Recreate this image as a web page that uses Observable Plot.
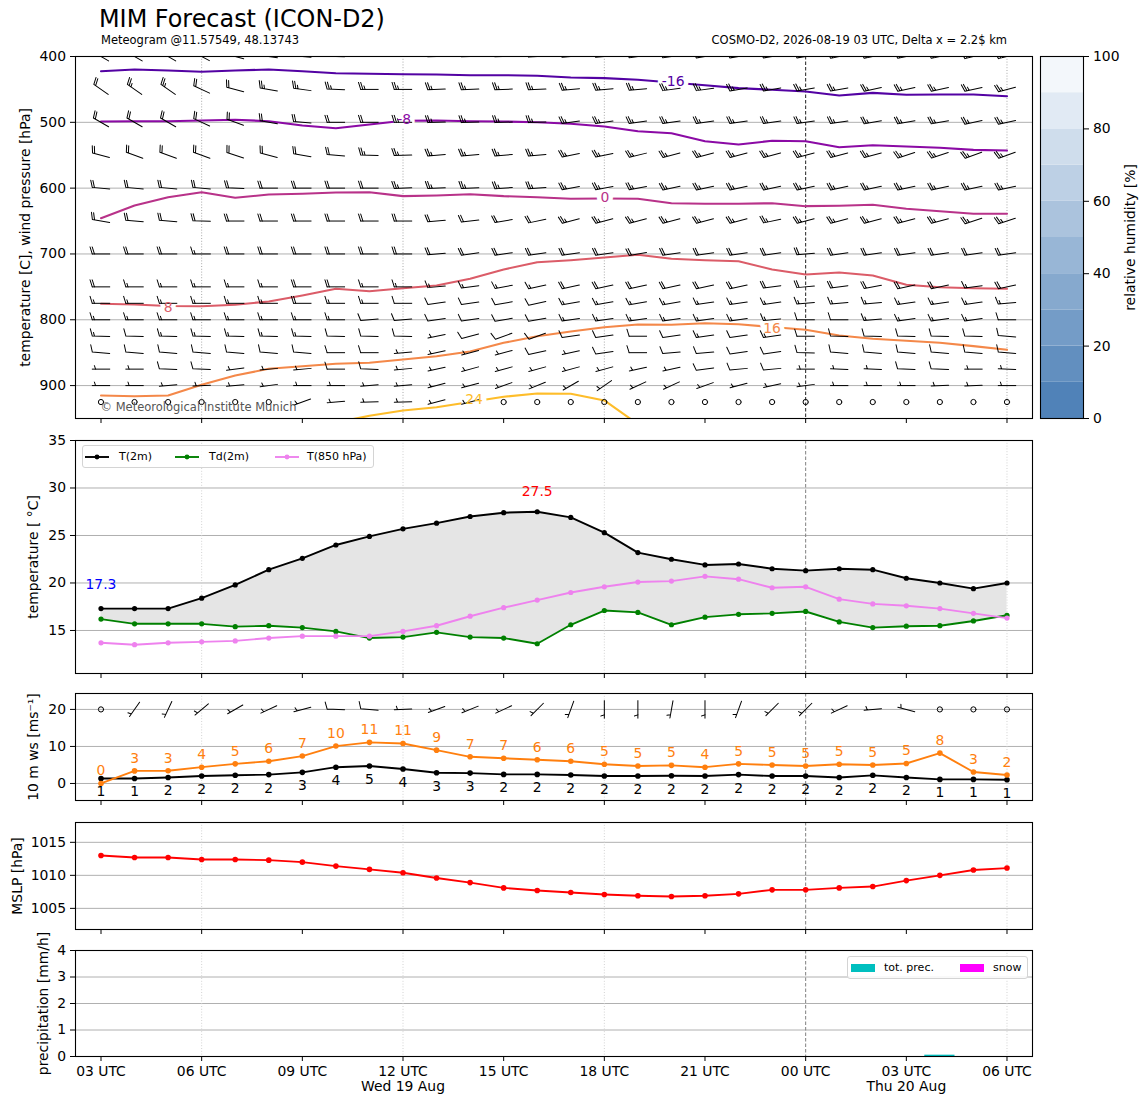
<!DOCTYPE html>
<html><head><meta charset="utf-8">
<script src="https://cdn.jsdelivr.net/npm/d3@7"></script>
<script src="https://cdn.jsdelivr.net/npm/@observablehq/plot@0.6"></script>
<style>
body{margin:0;background:#fff;}
#root{position:relative;width:1148px;height:1105px;overflow:hidden;font-family:"DejaVu Sans",sans-serif;color:#000;}
.abs{position:absolute;white-space:nowrap;}
.leg{position:absolute;border:1px solid #d4d4d4;border-radius:3px;background:rgba(255,255,255,0.85);font-size:11px;}
.li{position:absolute;top:0;height:100%;display:flex;align-items:center;}
</style></head><body><div id="root"></div>
<script>
// ---------------- DATA ----------------
const times = ["2026-08-19T03:00Z","2026-08-19T04:00Z","2026-08-19T05:00Z","2026-08-19T06:00Z","2026-08-19T07:00Z","2026-08-19T08:00Z","2026-08-19T09:00Z","2026-08-19T10:00Z","2026-08-19T11:00Z","2026-08-19T12:00Z","2026-08-19T13:00Z","2026-08-19T14:00Z","2026-08-19T15:00Z","2026-08-19T16:00Z","2026-08-19T17:00Z","2026-08-19T18:00Z","2026-08-19T19:00Z","2026-08-19T20:00Z","2026-08-19T21:00Z","2026-08-19T22:00Z","2026-08-19T23:00Z","2026-08-20T00:00Z","2026-08-20T01:00Z","2026-08-20T02:00Z","2026-08-20T03:00Z","2026-08-20T04:00Z","2026-08-20T05:00Z","2026-08-20T06:00Z"];
const tickTimes = ["2026-08-19T03:00Z","2026-08-19T06:00Z","2026-08-19T09:00Z","2026-08-19T12:00Z","2026-08-19T15:00Z","2026-08-19T18:00Z","2026-08-19T21:00Z","2026-08-20T00:00Z","2026-08-20T03:00Z","2026-08-20T06:00Z"];
const gridTimes = ["2026-08-19T06:00Z","2026-08-19T12:00Z","2026-08-19T18:00Z","2026-08-20T06:00Z"];
const midnightTimes = ["2026-08-20T00:00Z"];
const dayLabelTimes = ["2026-08-19T12:00Z","2026-08-20T03:00Z"];
const dayLabels = ["Wed 19 Aug","Thu 20 Aug"];

// isotherms (pressure in hPa of each isotherm at each hour)
const isoTemps = [-16,-8,0,8,16,24];
const isoM16 = [422.3,419.8,421.3,423.2,421.3,419.8,422.3,425.4,426.3,426.9,427.3,428.4,428.4,429.3,431.9,432.9,435.4,439.5,443.6,448.1,450.6,453.2,459.3,455.2,458.2,457.7,457.7,460.3];
const isoM8 = [498.8,498.3,498.3,497.2,496.2,498.3,504.8,508.9,503.3,497.7,497.2,498.3,498.8,499.8,502.2,506.4,513.5,516.5,528.7,533.7,528.1,528.7,537.8,534.8,536.7,538.7,541.8,542.8];
const iso0 = [645.7,626.4,613.8,606.2,614.7,609.7,608.6,606.6,606.2,612.2,611.2,609.2,612.2,613.8,616.2,615.7,616.2,622.9,623.8,623.8,622.9,627.4,626.8,625.3,631.4,635.1,639,639];
const iso8 = [775.7,776.8,779,779.4,777.2,772.2,763.1,752.9,756.6,752,747.9,737.7,723.6,712.5,709.5,705.4,701.3,707.4,709.5,711,723.6,731.2,728.2,732.7,746.9,750.5,752,752.9];
const iso16 = [915,916.1,915,898.8,884.6,874.5,870.5,866.9,865.4,860.4,855.3,848.2,835,825,817.8,811.3,807.2,807.6,805.2,806.7,811,815.2,823.9,828.9,831.9,835,840.1,845.6];
const iso24 = [null,null,null,null,null,null,null,956,945.9,937.8,932.8,924.9,917,912,912.4,922.6,958.5,null,null,null,null,null,null,null,null,null,null,null];
const isoLabelTimes = ["2026-08-19T20:03Z","2026-08-19T12:02Z","2026-08-19T18:01Z","2026-08-19T05:00Z","2026-08-19T23:00Z","2026-08-19T14:07Z"];
const isoLabelP = [437.5,496.2,613.8,780.8,813.7,921.6];

// wind barbs aloft
const levels = [400,450,500,550,600,650,700,750,775,800,825,850,875,900,925];
const barbSpeedKt = [
 [25,25,25,25,25,25,25,25,25,25,25,25,25,25,25,25,25,25,25,25,25,25,25,25,25,25,25,25],
 [20,25,25,20,20,25,25,25,25,25,25,25,25,25,25,25,25,25,25,25,25,25,25,25,25,25,25,25],
 [20,20,20,20,20,20,20,20,20,25,25,25,25,25,25,25,25,25,25,25,25,25,25,25,25,25,25,25],
 [20,20,20,20,20,20,20,20,25,25,25,25,25,25,25,25,25,25,25,25,25,25,25,25,25,25,25,25],
 [20,20,20,20,20,20,20,20,20,25,25,25,25,25,25,25,25,25,25,25,25,25,25,25,25,25,25,25],
 [20,20,20,20,20,20,20,20,20,20,20,20,20,20,25,25,25,25,25,25,25,25,25,25,25,25,25,25],
 [20,20,20,15,20,20,20,20,20,20,20,20,20,20,20,20,20,20,20,20,20,20,20,20,20,20,20,20],
 [20,15,15,15,15,15,20,20,15,15,15,15,15,15,20,20,20,20,20,20,20,20,20,20,20,20,15,20],
 [15,15,15,15,15,15,20,15,15,10,10,10,10,10,15,15,15,15,15,15,15,15,15,15,15,15,15,15],
 [15,15,15,15,15,15,15,15,10,10,10,10,10,10,15,15,15,15,15,15,15,10,10,15,15,15,15,10],
 [15,10,15,15,15,15,15,10,10,10,5,10,10,10,10,10,10,10,15,10,15,10,10,10,10,10,10,10],
 [10,10,10,10,10,10,10,10,10,5,5,5,5,10,5,10,10,10,10,10,10,10,10,10,10,10,10,10],
 [5,5,10,10,5,5,5,10,10,5,5,5,5,5,5,5,5,5,10,10,10,5,5,5,10,10,5,5],
 [5,5,5,5,5,5,5,5,5,5,5,5,5,5,5,5,5,5,5,5,5,5,5,5,5,5,5,5],
 [0,0,0,0,0,0,5,5,5,5,5,5,0,0,0,0,0,0,0,0,0,0,0,0,0,0,0,0]
];
const barbDirDeg = [
 [300,300,300,298,285,278,275,272,270,270,268,268,268,266,265,265,262,262,260,260,260,260,258,258,258,258,256,256],
 [305,305,305,295,285,280,278,272,270,270,268,268,268,268,265,265,265,262,262,260,260,260,260,258,258,258,258,255],
 [300,300,300,295,290,280,275,270,270,270,268,268,268,268,262,262,262,262,262,262,262,262,262,260,260,260,258,258],
 [285,290,290,290,288,285,280,275,272,268,265,265,265,265,258,258,256,255,255,255,255,255,255,255,252,252,250,250],
 [275,275,275,275,272,270,270,270,270,268,268,268,266,266,260,260,260,258,258,258,258,258,258,258,258,258,258,258],
 [280,275,275,272,270,270,270,270,270,270,265,263,260,258,255,255,255,255,255,255,258,255,255,255,255,255,252,252],
 [270,270,270,270,270,270,270,270,270,270,265,262,262,262,262,262,260,262,262,262,262,265,262,262,262,262,262,262],
 [270,270,270,270,270,270,270,270,270,270,265,262,260,258,258,258,258,258,258,258,262,265,262,260,258,258,262,258],
 [270,270,270,270,270,270,270,270,270,270,262,262,260,258,260,260,260,260,262,262,262,265,265,265,262,262,262,265],
 [270,270,270,270,270,270,270,270,265,265,262,262,260,260,262,262,262,262,262,262,265,270,270,265,262,262,262,270],
 [272,272,272,272,272,272,272,272,272,272,258,255,250,250,262,262,270,262,262,262,262,270,272,272,272,272,272,275],
 [275,275,275,275,275,275,275,270,270,265,258,255,255,258,258,262,270,265,265,262,262,272,275,275,275,275,275,275],
 [270,270,272,272,262,265,265,270,272,265,258,255,255,255,255,255,258,258,262,265,265,270,272,272,272,272,270,272],
 [270,270,265,268,265,262,270,270,265,265,255,255,250,248,240,235,245,245,250,255,258,262,270,270,270,268,268,270],
 [0,0,0,0,0,0,250,265,268,268,255,255,0,0,0,0,0,0,0,0,0,0,0,0,0,0,0,0]
];
const rhBands = [0,10,20,30,40,50,60,70,80,90];

// surface
const t2m = [17.3,17.3,17.3,18.4,19.8,21.4,22.6,24.0,24.9,25.7,26.3,27.0,27.4,27.5,26.9,25.3,23.2,22.5,21.9,22.0,21.5,21.3,21.5,21.4,20.5,20.0,19.4,20.0];
const td2m = [16.2,15.7,15.7,15.7,15.4,15.5,15.3,14.9,14.2,14.3,14.8,14.3,14.2,13.6,15.6,17.1,16.9,15.6,16.4,16.7,16.8,17.0,15.9,15.3,15.45,15.5,16.0,16.6];
const t850 = [13.7,13.5,13.7,13.8,13.9,14.2,14.4,14.4,14.4,14.9,15.5,16.5,17.4,18.2,19.0,19.6,20.1,20.2,20.7,20.4,19.5,19.6,18.3,17.8,17.6,17.3,16.8,16.3];
const ws10 = [1.35,1.35,1.6,2.0,2.2,2.4,3.0,4.4,4.7,3.9,2.9,2.8,2.45,2.45,2.3,2.0,2.0,2.1,2.0,2.4,2.0,2.0,1.6,2.2,1.6,1.1,1.1,1.0];
const gust10 = [0.0,3.4,3.45,4.4,5.3,6.0,7.4,10.1,11.1,10.8,9.0,7.2,6.8,6.4,6.0,5.2,4.7,4.9,4.4,5.3,5.0,4.7,5.2,5.0,5.4,8.2,3.1,2.3];
const wind10Kt = [0,5,5,5,5,5,5,10,10,5,5,5,5,5,5,5,5,5,5,5,5,5,5,5,5,0,0,0];
const wind10Dir = [0,215,205,230,240,245,255,272,275,268,250,248,245,225,200,180,180,190,180,200,225,225,245,265,285,0,0,0];
const mslp = [1013.0,1012.7,1012.7,1012.4,1012.4,1012.3,1012.0,1011.4,1010.9,1010.4,1009.6,1008.9,1008.1,1007.7,1007.4,1007.1,1006.9,1006.8,1006.9,1007.2,1007.8,1007.8,1008.1,1008.3,1009.2,1010.0,1010.8,1011.1];
const precipTot = [0,0,0,0,0,0,0,0,0,0,0,0,0,0,0,0,0,0,0,0,0,0,0,0,0,0.05,0,0];
const precipSnow = [0,0,0,0,0,0,0,0,0,0,0,0,0,0,0,0,0,0,0,0,0,0,0,0,0,0,0,0];

// ---------------- BUILD ----------------
const root = document.getElementById("root");
const FONT = "DejaVu Sans, sans-serif";
const FS = 13.9;
const W = 1148, ML = 75, MR = W - 1032;
const T = times.map(s => new Date(s));
const H = 36e5;
const xDomain = [new Date(+T[0] - 0.76 * H), new Date(+T[T.length - 1] + 0.76 * H)];
const ticksX = tickTimes.map(s => new Date(s));
const gridX = gridTimes.map(s => new Date(s));
const midX = midnightTimes.map(s => new Date(s));
const fmtUTC = d3.utcFormat("%H UTC");
const plasma = t => d3.interpolatePlasma((t + 24) / 56);
const BARB = 17.5;

function barbShape(kt) {
  const S = BARB, Hh = 0.4 * S, Wd = 0.25 * S, sp = 0.125 * S;
  return {
    draw(ctx) {
      if (kt === 0) { const r = 0.15 * S; ctx.moveTo(r, 0); ctx.arc(0, 0, r, 0, 2 * Math.PI); return; }
      let v = Math.round(kt / 5) * 5;
      const nFlag = Math.floor(v / 50); v -= 50 * nFlag;
      const nFull = Math.floor(v / 10); v -= 10 * nFull;
      const half = v >= 5;
      const far = -S / 2;
      ctx.moveTo(0, S / 2); ctx.lineTo(0, far);
      let off = 0;
      for (let i = 0; i < nFlag; i++) { ctx.moveTo(0, far + off); ctx.lineTo(Hh, far + off + Wd / 2); ctx.lineTo(0, far + off + Wd); off += Wd + sp; }
      for (let i = 0; i < nFull; i++) { ctx.moveTo(0, far + off); ctx.lineTo(Hh, far + off - Wd / 2); off += sp; }
      if (half) { if (nFull === 0 && nFlag === 0) off += 1.5 * sp; ctx.moveTo(0, far + off); ctx.lineTo(Hh / 2, far + off - Wd / 4); }
    }
  };
}
function barbMarks(records) {
  const classes = [...new Set(records.map(d => d.kt))];
  return classes.map(k => Plot.vector(records.filter(d => d.kt === k), {
    x: "time", y: "y", rotate: "dir", length: BARB, shape: barbShape(k), anchor: "start",
    stroke: "black", strokeWidth: 1, clip: true
  }));
}

function panel({top, bottom, yDomain, yTicks, yGrid, yLabel, labelX, marks, mt = 8, mb = 12, xLabels = false, dotColor = "#d2d2d2", dashColor = "#808080"}) {
  const h = bottom - top;
  const extra = xLabels ? [Plot.text(dayLabelTimes.map((s, i) => ({time: new Date(s), label: dayLabels[i]})), {x: "time", text: "label", frameAnchor: "bottom", dy: 34, fontSize: FS})] : [];
  const svg = Plot.plot({
    width: W, height: mt + h + mb,
    marginLeft: ML, marginRight: MR, marginTop: mt, marginBottom: mb,
    style: {fontFamily: FONT, fontSize: FS + "px", background: "transparent", overflow: "visible"},
    x: {type: "utc", domain: xDomain},
    y: {domain: yDomain},
    marks: [
      Plot.ruleY(yGrid, {stroke: "#b0b0b0", strokeWidth: 1}),
      Plot.ruleX(gridX, {stroke: dotColor, strokeDasharray: "1,1.8", strokeWidth: 1}),
      Plot.ruleX(midX, {stroke: dashColor, strokeDasharray: "3.5,2", strokeWidth: 1}),
      ...marks,
      Plot.axisY({ticks: yTicks, tickSize: 5, tickPadding: 4.5, label: null, fontSize: FS, tickFormat: d => String(d)}),
      Plot.axisX({ticks: ticksX, tickSize: 5, tickPadding: 5, label: null, fontSize: FS, tickFormat: xLabels ? (d => fmtUTC(d)) : (() => "")}),
      ...extra,
      Plot.text([yLabel], {text: d => d, frameAnchor: "left", dx: labelX - ML, rotate: -90, textAnchor: "middle", fontSize: FS}),
      Plot.frame({stroke: "black", strokeWidth: 1.1})
    ]
  });
  svg.style.position = "absolute"; svg.style.left = "0px"; svg.style.top = (top - mt) + "px";
  root.append(svg);
}

function addDiv(html, style, cls = "abs") {
  const d = document.createElement("div"); d.className = cls; d.innerHTML = html; Object.assign(d.style, style); root.append(d); return d;
}

// titles
addDiv("MIM Forecast (ICON-D2)", {left: "99px", top: "8px", fontSize: "23.9px", lineHeight: "1"});
addDiv("Meteogram @11.57549, 48.13743", {left: "101px", top: "35px", fontSize: "11.5px", lineHeight: "1"});
addDiv("COSMO-D2, 2026-08-19 03 UTC, Delta x = 2.2$ km", {right: (1148 - 1007) + "px", top: "35px", fontSize: "11.5px", lineHeight: "1"});

// ---- Panel 1: upper air
const isoSeries = [isoM16, isoM8, iso0, iso8, iso16, iso24];
const isoRecords = isoSeries.map((arr, k) => arr.map((p, i) => ({time: T[i], p, temp: isoTemps[k]})).filter(d => d.p != null));
const isoLabelRecs = isoTemps.map((t, k) => ({time: new Date(isoLabelTimes[k]), p: isoLabelP[k], temp: t, label: String(t)}));
const barbRecs = [];
levels.forEach((lev, j) => T.forEach((t, i) => barbRecs.push({time: t, y: lev, kt: barbSpeedKt[j][i], dir: barbDirDeg[j][i]})));

panel({
  top: 56, bottom: 418, yDomain: [950, 400], yTicks: [400, 500, 600, 700, 800, 900], yGrid: [500, 600, 700, 800, 900],
  yLabel: "temperature [C], wind pressure [hPa]", labelX: 25, dotColor: "#a8a8a8", dashColor: "#222",
  marks: [
    ...isoRecords.map((recs, k) => Plot.line(recs, {x: "time", y: "p", stroke: plasma(isoTemps[k]), strokeWidth: 2.1, clip: true})),
    Plot.text(isoLabelRecs, {x: "time", y: "p", text: "label", fill: "white", stroke: "white", strokeWidth: 9, fontSize: FS}),
    ...barbMarks(barbRecs),
    Plot.text(isoLabelRecs, {x: "time", y: "p", text: "label", fill: d => plasma(d.temp), fontSize: FS}),
    Plot.text(["© Meteorological Institute Munich"], {text: d => d, frameAnchor: "bottom-left", dx: 25, dy: -8, textAnchor: "start", fill: "#555", fontSize: 11.5})
  ]
});

// colorbar
{
  const svg = Plot.plot({
    width: 148, height: 8 + 362 + 12, marginLeft: 40, marginRight: 65, marginTop: 8, marginBottom: 12,
    style: {fontFamily: FONT, fontSize: FS + "px", background: "transparent", overflow: "visible"},
    x: {domain: [0, 1], axis: null},
    y: {domain: [0, 100]},
    color: {type: "linear", domain: [0, 90], range: ["#5082b8", "#f3f7fb"]},
    marks: [
      Plot.rect(rhBands, {x1: 0, x2: 1, y1: d => d, y2: d => d + 10, fill: d => d}),
      Plot.axisY({anchor: "right", ticks: [0, 20, 40, 60, 80, 100], tickSize: 5, tickPadding: 4.5, label: null, fontSize: FS, tickFormat: d => String(d)}),
      Plot.text(["relative humidity [%]"], {text: d => d, frameAnchor: "right", dx: 47, rotate: -90, textAnchor: "middle", fontSize: FS}),
      Plot.frame({stroke: "black", strokeWidth: 1.1})
    ]
  });
  svg.style.position = "absolute"; svg.style.left = "1000px"; svg.style.top = (56 - 8) + "px";
  root.append(svg);
}

// ---- Panel 2: temperatures
const surf = T.map((t, i) => ({time: t, t2m: t2m[i], td: td2m[i], t850: t850[i]}));
const tMaxIdx = t2m.indexOf(d3.max(t2m));
panel({
  top: 440, bottom: 673, yDomain: [10.47, 35], yTicks: [15, 20, 25, 30, 35], yGrid: [15, 20, 25, 30],
  yLabel: "temperature [ °C]", labelX: 33,
  marks: [
    Plot.areaY(surf, {x: "time", y1: "td", y2: "t2m", fill: "#e5e5e5"}),
    Plot.line(surf, {x: "time", y: "t2m", stroke: "black", strokeWidth: 1.9}),
    Plot.dot(surf, {x: "time", y: "t2m", r: 2.6, fill: "black"}),
    Plot.line(surf, {x: "time", y: "td", stroke: "green", strokeWidth: 1.9}),
    Plot.dot(surf, {x: "time", y: "td", r: 2.6, fill: "green"}),
    Plot.line(surf, {x: "time", y: "t850", stroke: "violet", strokeWidth: 1.9}),
    Plot.dot(surf, {x: "time", y: "t850", r: 2.6, fill: "violet"}),
    Plot.text([surf[0]], {x: "time", y: "t2m", text: d => d.t2m.toFixed(1), dy: -24, fill: "blue", fontSize: FS}),
    Plot.text([surf[tMaxIdx]], {x: "time", y: "t2m", text: d => d.t2m.toFixed(1), dy: -20, fill: "red", fontSize: FS})
  ]
});
{
  const L = addDiv("", {left: "82px", top: "445px", width: "290px", height: "21px"}, "leg");
  const items = [["T(2m)", "black", 2, 36], ["Td(2m)", "green", 92, 126], ["T(850 hPa)", "violet", 192, 224]];
  L.innerHTML = items.map(([txt, c, sx, tx]) =>
    `<div class="li" style="left:${sx}px"><svg width="24" height="8"><line x1="0" y1="4" x2="24" y2="4" stroke="${c}" stroke-width="1.9"/><circle cx="12" cy="4" r="2.4" fill="${c}"/></svg></div>` +
    `<div class="li" style="left:${tx}px">${txt}</div>`).join("");
}

// ---- Panel 3: 10 m wind
const wind = T.map((t, i) => ({time: t, ws: ws10[i], gust: gust10[i]}));
const wind10Recs = T.map((t, i) => ({time: t, y: 20, kt: wind10Kt[i], dir: wind10Dir[i]}));
panel({
  top: 693, bottom: 800, yDomain: [-4.6, 24.3], yTicks: [0, 10, 20], yGrid: [0, 10, 20],
  yLabel: "10 m ws [ms\u207B\u00B9]", labelX: 33,
  marks: [
    Plot.line(wind, {x: "time", y: "ws", stroke: "black", strokeWidth: 1.9}),
    Plot.dot(wind, {x: "time", y: "ws", r: 2.8, fill: "black"}),
    Plot.line(wind, {x: "time", y: "gust", stroke: "#ff7f0e", strokeWidth: 1.9}),
    Plot.dot(wind, {x: "time", y: "gust", r: 2.8, fill: "#ff7f0e"}),
    Plot.text(wind, {x: "time", y: "ws", text: d => String(Math.round(d.ws)), dy: 13.5, fill: "black", fontSize: FS}),
    Plot.text(wind, {x: "time", y: "gust", text: d => String(Math.round(d.gust)), dy: -12.5, fill: "#ff7f0e", fontSize: FS}),
    ...barbMarks(wind10Recs)
  ]
});

// ---- Panel 4: MSLP
const pres = T.map((t, i) => ({time: t, p: mslp[i]}));
panel({
  top: 822, bottom: 929, yDomain: [1001.8, 1018.0], yTicks: [1005, 1010, 1015], yGrid: [1005, 1010, 1015],
  yLabel: "MSLP [hPa]", labelX: 17,
  marks: [
    Plot.line(pres, {x: "time", y: "p", stroke: "red", strokeWidth: 1.9}),
    Plot.dot(pres, {x: "time", y: "p", r: 2.8, fill: "red"})
  ]
});

// ---- Panel 5: precipitation
const prec = T.map((t, i) => ({time: t, tot: precipTot[i], snow: precipSnow[i]}));
const halfBar = 0.45 * H;
panel({
  top: 950, bottom: 1056, yDomain: [0, 4], yTicks: [0, 1, 2, 3, 4], yGrid: [1, 2, 3],
  yLabel: "precipitation [mm/h]", labelX: 43, mb: 45, xLabels: true,
  marks: [
    Plot.rectY(prec.filter(d => d.tot > 0), {x1: d => new Date(+d.time - halfBar), x2: d => new Date(+d.time + halfBar), y1: 0, y2: "tot", fill: "#00bfbf"}),
    Plot.rectY(prec.filter(d => d.snow > 0), {x1: d => new Date(+d.time - halfBar), x2: d => new Date(+d.time + halfBar), y1: 0, y2: "snow", fill: "#ff00ff"})
  ]
});
{
  const L = addDiv("", {left: "847px", top: "956px", width: "179px", height: "21px"}, "leg");
  L.innerHTML =
    `<div class="li" style="left:3px"><div style="width:24px;height:8px;background:#00bfbf"></div></div>` +
    `<div class="li" style="left:36px">tot. prec.</div>` +
    `<div class="li" style="left:112px"><div style="width:24px;height:8px;background:#ff00ff"></div></div>` +
    `<div class="li" style="left:145px">snow</div>`;
}
</script></body></html>
